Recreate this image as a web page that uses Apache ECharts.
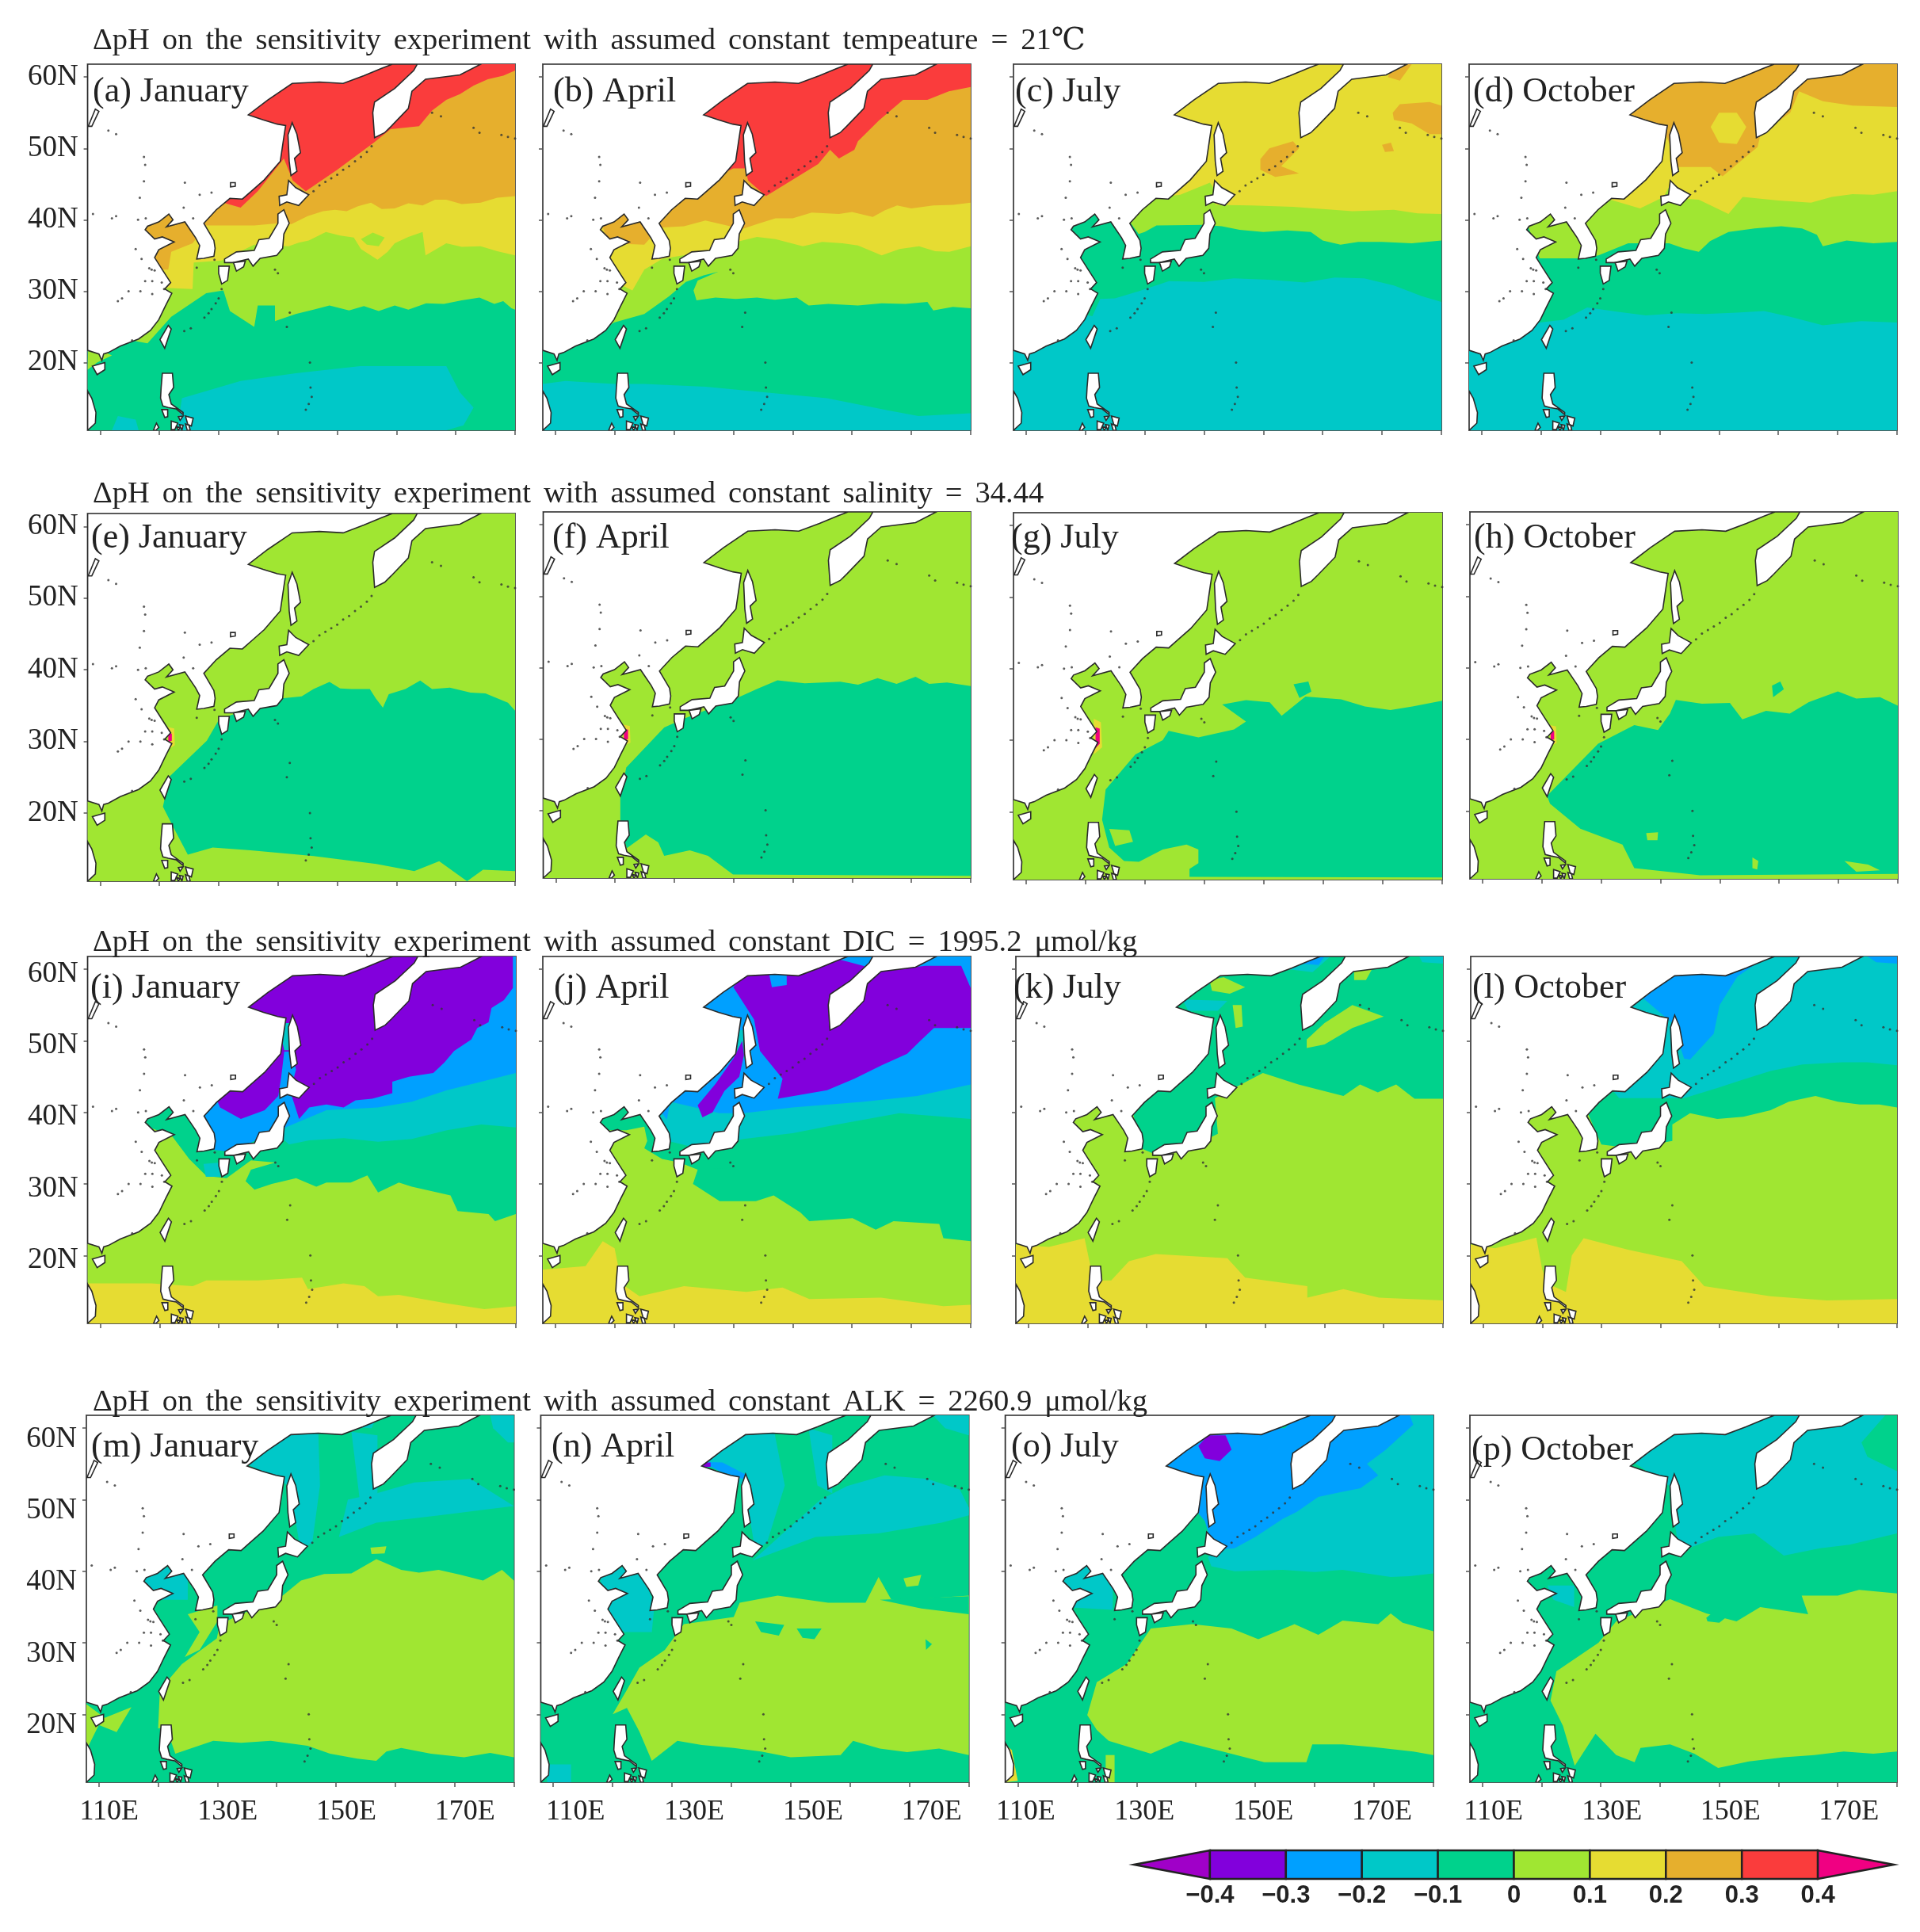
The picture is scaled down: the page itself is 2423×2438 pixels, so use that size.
<!DOCTYPE html>
<html>
<head>
<meta charset="utf-8">
<title>Delta pH sensitivity experiments</title>
<script src="https://cdn.jsdelivr.net/npm/echarts@6/dist/echarts.min.js"></script>
<style>
html,body{margin:0;padding:0;background:#fff}
#main{width:2423px;height:2438px}
</style>
</head>
<body>
<div id="main"></div>
<script>
// axis ranges of every map panel
var LON_MIN = 107.9, LON_MAX = 180, LAT_MIN = 10.5, LAT_MAX = 61.8;
var LON_TICKS = [110,120,130,140,150,160,170,180];
var LON_LABELS = [110,130,150,170];
var LAT_TICKS = [20,30,40,50,60];

var ROW_TITLES = [
  'ΔpH on the sensitivity experiment with assumed constant tempeature = 21℃',
  'ΔpH on the sensitivity experiment with assumed constant salinity = 34.44',
  'ΔpH on the sensitivity experiment with assumed constant DIC = 1995.2 μmol/kg',
  'ΔpH on the sensitivity experiment with assumed constant ALK = 2260.9 μmol/kg'
];
var PANEL_NAMES = ['(a) January','(b) April','(c) July','(d) October','(e) January','(f) April','(g) July','(h) October',
  '(i) January','(j) April','(k) July','(l) October','(m) January','(n) April','(o) July','(p) October'];

// colour bar
var BAR_BREAKS = [-0.5,-0.4,-0.3,-0.2,-0.1,0,0.1,0.2,0.3,0.4,0.5];
var BAR_LABELS = [-0.4,-0.3,-0.2,-0.1,0,0.1,0.2,0.3,0.4];
var BAR_COLORS = ['#a000c8','#8200dc','#00a0ff','#00c8c8','#00d28c','#a0e632','#e6dc32','#e6af2d','#fa3c3c','#f00082'];

// coast, land is white in every panel, all as lon,lat
var wholeMap = [107.9,10.5, 180,10.5, 180,61.8, 107.9,61.8];
var LAND = [
  [107.9,21.7, 109.8,21.2, 110.3,20.3, 110.6,21.2, 111.4,21.4, 113.4,22.3, 116.5,23.3, 118.5,24.5, 119.9,26, 121,27.9, 122.1,29.7, 120.9,30.3, 121.9,31.2, 120.5,33, 119.2,34.7, 119.9,35.8, 122.5,36.9, 120.5,37.6, 119.2,37.3, 117.6,38.6, 118,39.1, 119.9,39.7, 121.6,40.8, 122.3,40, 121.2,39, 124.3,39.7, 125.2,38.6, 126.1,37.5, 126.8,36.4, 126.3,34.5, 127.5,34.6, 129.2,34.9, 129.4,36, 129.2,37.1, 127.5,39.5, 129.6,41.4, 131.9,43, 134,42.9, 135.5,44, 137.7,45.6, 140.4,48.2, 141,51.6, 141.3,53.2, 139.9,53.4, 137.5,54, 135,54.7, 138.3,56.8, 142.4,59.1, 147,59.3, 151,59.1, 154.5,60.2, 157.4,61.2, 159.3,61.8, 163.5,61.8, 162.9,60.9, 159.7,58.4, 156.3,56.5, 156,55, 156.3,51.5, 158,52.2, 159.1,53.1, 162,55.6, 162.6,58, 164.9,59.7, 170.7,60.3, 174.2,61.8, 107.9,61.8],
  [142.4,53.6, 143.2,52, 143.8,49.4, 142.8,48.6, 143.2,46.8, 142.2,46.2, 141.9,48.2, 141.7,51.9],
  [141.8,45.5, 143,44.5, 145.2,43.5, 143.5,42, 141.5,42.5, 140.3,42, 140.2,43.3, 141.5,43.5],
  [141,41.4, 141.9,39.5, 141,38, 140.8,36, 139.8,35, 137,34.6, 135.8,33.5, 135,34.5, 132.5,34, 131,34, 131,34.5, 133,35.5, 136,35.7, 136.8,37.2, 138.5,37.4, 140,39.5, 140,40.8],
  [130,33.5, 131.8,33.5, 131.5,31.5, 130.5,31, 130,32.5],
  [132.5,34, 134.5,34.2, 134.2,33.4, 133,32.8],
  [121.5,25.2, 122,24.7, 120.9,22, 120.1,23.2],
  [108.7,19.5, 110.8,20, 110.8,19, 109.5,18.3],
  [120.5,18.5, 122.2,18.5, 122.4,16.5, 121.6,15.5, 122,14.2, 124,13, 124,12.7, 122.8,13.5, 121.5,13.7, 120.6,13.9, 120.2,15, 120.3,16.5],
  [120.4,13.4, 121.4,13.4, 121.4,12.4, 120.9,12.3],
  [124.4,12.5, 125.7,12.2, 125.4,11.1, 124.8,11.3],
  [124.4,11.4, 125,11.2, 125.2,10.5, 124.7,10.5],
  [122,11.8, 123.1,11.5, 122.6,10.6, 122,10.6],
  [122.9,11, 123.5,10.9, 123.2,10.5],
  [123.4,11.3, 124,11.2, 123.8,10.5],
  [123.2,12.4, 124,12.5, 123.5,11.9],
  [119.5,11.5, 119.9,10.9, 119.4,10.5, 119,10.5],
  [107.9,16, 108.6,15, 109.3,13, 109.2,11.5, 107.9,10.5],
  [108,53.1, 108.6,53.1, 109.8,55.2, 109.2,55.5],
  [132,45.2, 132.8,45.2, 132.8,44.7, 132,44.6]
];
var ISLETS = [[127.6,26.3],[128.3,26.9],[128.8,27.5],[129.5,28.3],[130,29],[130.5,30.3],[124.2,24.4],[125.3,24.8],
  [146,44],[147,44.8],[148,45.3],[149,45.8],[150,46.3],[151,47],[152,47.5],[153,48.2],[154,48.8],[155,49.5],[155.8,50.3],
  [139.5,33],[140,32.5],[142,27],[141.5,25],
  [145.7,15.2],[145.2,14.2],[144.7,13.4],[145.5,16.5],[145.4,20],
  [166,55],[167.5,54.5],[173,52.9],[174,52.2],[177.7,51.9],[178.8,51.6],[180,51.4],
  [126.3,33.3],[129.3,34.4],[111.4,52.5],[112.7,52],[117.4,48.8],[117.6,47.7],[117.4,45.4],[124.3,45.2],[126.8,43.5],[128.8,43.8],
  [116.7,43.1],[124.1,41.7],[108.8,40.8],[112,40.2],[112.7,40.5],[116.4,40],[117.7,40.2],[125.7,40.2],[116,35.9],[117,34.5],
  [118.3,33.2],[118.7,33],[119.2,32.9],[117.6,31.4],[118.8,31.4],[120.4,31.2],[118.8,29.6],[120.8,30.3],[116.8,30],[114.8,30],[113,28.6],[113.7,29],[115.4,23.1]
];

// dpH fields: each patch is [band middle value, lon,lat outline], later patches lie on earlier ones
var fieldA = [
  [-0.05, wholeMap],
  [-0.15, [123.8,15, 133.7,17.4, 143,18.5, 153.9,19.5, 168.4,19.5, 170.7,15.8, 173,13.7, 171.3,11.2, 168.4,10.5, 123,10.5]],
  [-0.15, [113,12.5, 116,12, 116.5,10.5, 112,10.5]],
  [0.05, [107.9,19, 109.5,20, 112,21, 108,22.5]],
  [0.05, [116,23, 118,22.7, 122,26.4, 127.9,29.7, 130.8,30.1, 131.9,27.2, 136,25, 136.6,28, 139.5,28, 139.5,25.8, 143,26.8, 146,27.4, 148.7,28, 152,27.3, 154.5,27.9, 157,27.2, 159.7,28, 162,27.4, 165,28.3, 168,28.2, 171,28.7, 174,29.1, 176.5,28.2, 178,28.6, 179.4,27.6, 180,27.4, 180,61.8, 107.9,61.8]],
  [0.15, [120,30.5, 125.6,30.3, 125.8,34, 130.5,34.3, 136,36.5, 141.8,36.3, 143.5,36.8, 145.2,37.1, 148.1,38.3, 150.5,37.8, 152.8,37.5, 154,35.9, 156.8,34.4, 158.5,35.5, 159.7,36.7, 162,37.6, 164.4,38.3, 164.9,35, 168.4,36.7, 171,36.2, 174.2,36.3, 177,35.6, 180,35, 180,61.8, 107.9,61.8]],
  [0.05, [154,37.3, 156,38.2, 158,37.5, 157,36.3, 155,36.5]],
  [0.25, [117,33, 121.5,33, 122,35.5, 125.6,36.7, 127.9,39.2, 136,39.2, 140,39.5, 142.3,39.4, 145,40.5, 147.6,41.2, 149.6,41.4, 151.6,41.2, 153.5,41.9, 155.7,42.4, 157.5,41.5, 159.7,41.6, 162,42.3, 164.4,42, 166.5,42.8, 168.4,42.8, 171,42.2, 174.2,42.4, 177,43.1, 180,43.3, 180,61.8, 107.9,61.8]],
  [0.35, [125,50, 130.8,42.4, 133.7,41.7, 136.6,44, 141,48.6, 142.5,45.5, 144.7,44, 150,47, 156.3,50.9, 159,52.7, 163.8,53.1, 166,55.3, 168.4,56.8, 170.7,57.6, 173,58.8, 175.4,59.7, 178,60.2, 180,60.9, 180,61.8, 107.9,61.8]]
];
var fieldB = [
  [-0.05, wholeMap],
  [-0.15, [107.9,17, 111.7,17.4, 119.9,17, 125,17, 135.3,16.6, 145.5,15.8, 155.8,15, 166,13.3, 171.2,12.5, 180,12.9, 180,10.5, 107.9,10.5]],
  [0.05, [116,23.5, 119.9,25.6, 125,26.8, 129.2,29.3, 132,31.3, 135,32.2, 137.4,32.7, 134,31.5, 133.3,30.1, 133.8,28.7, 137,29.1, 140.4,28.9, 144,29.1, 147,28.8, 150.7,29.1, 152.7,28, 156,28.2, 161,28, 165,28.3, 169,28.2, 172.7,28.5, 173.7,27.3, 177,27.8, 180,27.6, 180,61.8, 107.9,61.8]],
  [0.15, [119.5,31.5, 123,30.1, 125,33, 128,34.5, 135,35.5, 141.5,37.1, 144,37.6, 147.1,37.3, 151.7,36.3, 155,36.9, 158.4,36.7, 161,36.4, 165,35, 168,35.9, 171.3,36.3, 174,35.6, 176.4,35.5, 180,36.3, 180,61.8, 107.9,61.8]],
  [0.25, [119,36.7, 125,36.5, 127.6,38.9, 131.7,39.1, 135.3,39.9, 141.5,38.7, 144,39.4, 147.1,40.2, 150,40.2, 153.2,41, 157.8,40.8, 160,41.1, 163.5,40.4, 165.5,41.3, 167.6,42, 170,41.6, 173.7,42, 177,42.1, 180,42.4, 180,61.8, 107.9,61.8]],
  [0.35, [125,50, 137,46, 140,47.2, 142,47.2, 142.5,45.5, 145.5,43.3, 154.3,47.8, 156.3,49.8, 157.8,48.6, 160.4,49.8, 161,51, 164.5,53.9, 168.6,56.8, 172.7,56.8, 176.3,58, 180,58.6, 180,61.8, 107.9,61.8]]
];
var fieldC = [
  [-0.15, wholeMap],
  [-0.05, [118,27, 121.2,26.5, 122.5,28.9, 125,29, 129,30, 134.1,31.4, 140,31.3, 145,31.8, 151,31.6, 157,31.2, 162,31.9, 167,31.8, 172,30.8, 176.7,29.3, 180,28.5, 180,61.8, 107.9,61.8]],
  [0.05, [129,38, 130,38.3, 132,39.2, 140,39.3, 143,39.1, 146,38.6, 150,38.3, 154,38.5, 158,38.3, 160,37.1, 163,36.5, 166,36.9, 170,36.9, 175,36.7, 180,37.1, 180,61.8, 107.9,61.8]],
  [0.15, [125,48, 131,43, 136,43.5, 141,45.2, 142,44, 141.9,42.1, 148,42, 155,41.8, 160,41.5, 165,41.2, 172,41.4, 176,40.9, 180,40.8, 180,61.8, 107.9,61.8]],
  [0.25, [171.8,55, 173,56.2, 178,56.5, 180,56, 180,52, 178,52, 175,53.5, 172,54]],
  [0.25, [171,60, 173,59.5, 175,61.8, 172,61.8]],
  [0.25, [170,50.5, 171.5,50.8, 172,49.6, 170.5,49.5]],
  [0.25, [149.5,48.5, 151,50, 155,51, 156,50, 153,47.5, 156,46.5, 152,46, 149.5,47]]
];
var fieldD = [
  [-0.15, wholeMap],
  [-0.05, [116,26, 119.8,25.6, 123.8,26, 127.8,27.7, 133,27.1, 137.7,26.6, 143,26.9, 147.6,26.8, 153,27, 157.6,27.2, 162,26.4, 167.5,25.2, 174,25.8, 180,25.6, 180,61.8, 107.9,61.8]],
  [0.05, [119.8,34.6, 126.3,34.6, 129.7,35, 134.7,36.7, 141.6,36.7, 144,36, 146.6,35.5, 148.5,37, 151.6,38.3, 156,38.8, 160.5,39.1, 164,38.8, 166.5,37.9, 167.5,36.3, 171.5,37.1, 176,36.7, 180,36.9, 180,61.8, 107.9,61.8]],
  [0.15, [125,48, 131.7,42.8, 136.7,41.6, 140.7,43.2, 141.7,44.8, 143,43, 146.6,42.8, 151.6,40.8, 154,43.2, 160,42.7, 165.5,42.4, 169,43.2, 172.5,43.6, 176,43.5, 180,44, 180,61.8, 107.9,61.8]],
  [0.25, [130,50, 141,52, 143,48, 142.7,47.4, 148.6,47.4, 150.6,46.1, 156.5,50.2, 157,52, 162,55, 163.5,58, 167.5,56.6, 172.5,56, 180,55.8, 180,61.8, 107.9,61.8]],
  [0.15, [148.6,53, 150,55, 153,55, 154.6,53, 153,50.6, 150,50.8]]
];
var fieldE = [
  [0.05, wholeMap],
  [-0.05, [120.6,20.9, 121.7,25.1, 128,30.1, 130.1,33.1, 135,34.5, 140.7,36, 144,36.3, 146,37.3, 148.7,38.3, 150.5,37.4, 152.4,37.3, 155.5,37.3, 156.5,36, 157.7,34.7, 158.7,36.6, 161.5,37.3, 164,38.5, 166,37.3, 169,37.5, 172.5,36.8, 175,36.7, 178.8,35.4, 180,34.3, 180,11.9, 174.6,12.1, 171.9,10.5, 167.2,13.3, 163,11.9, 156.6,12.9, 146,14, 135.4,14.8, 129,15.2, 124.8,14.2, 122.7,17.5]],
  [0.15, [121.4,28.8, 122.6,29.5, 122.5,31.8, 121.4,32]],
  [0.45, [121.5,29.9, 122.1,30.1, 122.1,31.1, 121.5,31.2]]
];
var fieldF = [
  [0.05, wholeMap],
  [-0.05, [120.9,22, 121.9,26, 128.3,31.6, 131.5,32.8, 140,35.5, 144,37, 147.4,38.2, 152,37.8, 158,38, 161,37.6, 164.3,38.5, 167.5,37.7, 170.7,38.7, 173,37.7, 176,37.9, 180,37.4, 180,10.8, 139.9,11, 135.7,13.6, 132.6,14.4, 128.3,13.6, 127.3,15.5, 125.2,16.6, 122,14.7, 120.9,17.4]],
  [0.15, [121.4,29, 122.6,29.5, 122.5,31.8, 121.4,32]],
  [0.45, [121.5,29.7, 122.2,30, 122.2,31.3, 121.5,31.4]]
];
var fieldG = [
  [0.05, wholeMap],
  [-0.05, [123.4,23.1, 128.4,28, 133,30, 134,31.3, 139,30.4, 145,31.5, 147,32.6, 143,35, 147,35.6, 151,35.3, 153,33.4, 157,36.1, 163,35.7, 167,34.7, 171.3,34.2, 175,34.7, 180,35.5, 180,10.8, 137.5,10.9, 137.5,12, 139,12.8, 139,14.7, 137,15.4, 133,14.7, 129,13, 126.5,13.1, 124,15, 122.8,18.9]],
  [0.05, [124,17.6, 127.4,17.4, 128,15.8, 125,15.2]],
  [-0.05, [155,37.8, 157.5,38.2, 158,36.8, 156,35.9]],
  [0.15, [121.4,28, 122.8,29, 122.6,32.5, 121.4,33]],
  [0.45, [121.7,28.9, 122.4,29.5, 122.4,31.6, 121.7,31.8]]
];
var fieldH = [
  [0.05, wholeMap],
  [-0.05, [120.9,22.1, 129.5,29.4, 135.6,32, 139.6,31.3, 141.6,33.6, 142.6,35.5, 147,35, 151.7,35.1, 153.8,32.8, 157.8,34, 161.8,33.6, 165,35.2, 169.9,36.7, 173,35.7, 177,35.9, 180,34.7, 180,11.2, 146.7,11, 135.6,12, 133.6,15.3, 126.5,17.5, 121.4,21]],
  [0.05, [137.6,16.9, 139.6,17, 139.5,15.9, 137.8,15.9]],
  [0.05, [171,13, 175,12.5, 177,11.7, 173,11.5]],
  [0.05, [155.5,13.5, 156.5,13, 156.3,11.8, 155.5,12]],
  [-0.05, [158.8,37.5, 160.2,38.1, 160.8,37, 159,35.9]],
  [0.15, [121.4,29, 122.5,29.5, 122.4,31.8, 121.4,32]],
  [0.45, [121.5,29.8, 122.1,30, 122.1,31.1, 121.5,31.2]]
];
var fieldI = [
  [0.05, wholeMap],
  [0.15, [107.9,16.1, 112.2,16.1, 118.6,16.1, 125.6,15.7, 127.9,16.5, 136.6,16.5, 144,16.9, 145,15.3, 151,16.1, 154.5,15.7, 156.8,14.3, 160.3,14.5, 168.4,13.3, 174.7,12.5, 180,12.9, 180,10.5, 107.9,10.5]],
  [-0.05, [118,38, 122.1,36.7, 125,33.5, 127.9,31.1, 131.3,30.8, 135.4,33.3, 139.5,33, 135.4,32, 134.5,30.4, 136,29.2, 138.9,30, 143,30.8, 146.4,29.6, 148.1,30.2, 152.2,30.2, 155,31.2, 156.8,28.8, 160.3,30.2, 162.5,29.6, 169,28.4, 170.2,26.2, 175.4,25.8, 176.5,24.8, 180,25.8, 180,61.8, 107.9,61.8]],
  [-0.15, [127.4,32.8, 130.2,33, 130.2,31, 127.8,31]],
  [-0.15, [141.8,35.5, 145.2,36.1, 151,36.4, 156.8,35.9, 162.5,36.3, 168.4,37.5, 174.2,38.3, 180,37.9, 180,61.8, 107.9,61.8]],
  [-0.25, [127,38, 129,34.8, 132,34.5, 136,36, 140,37, 141.2,37.9, 148.1,40.3, 156.8,40.7, 162.5,41.5, 168.4,43.1, 174.2,44.3, 180,45.5, 180,61.8, 107.9,61.8]],
  [-0.35, [129,43, 130.2,40.7, 133.7,39.1, 137.7,40.3, 140,42.3, 140.5,45, 141,48.5, 142.2,48.5, 143,46, 142,43, 143.5,39.1, 145.2,40.7, 148.1,41.1, 151,40.7, 153,41.7, 155.8,41.9, 159.2,42.7, 159.2,44.3, 162,45, 166.1,45.5, 168,47, 169.6,48.6, 172.5,50.2, 173.5,51.8, 175.4,52.6, 175.9,54.6, 178,55.7, 179.5,57.4, 179.5,61.8, 107.9,61.8]],
  [-0.25, [159.6,44, 161.5,44.8, 163,44.6, 161.5,43.4]],
  [-0.15, [140,52.5, 142.8,52.5, 143,48.7, 141,48.7]],
  [-0.25, [142.5,47.5, 141.5,44, 140.3,42, 141,44.5, 141.2,47]]
];
var fieldJ = [
  [0.05, wholeMap],
  [0.15, [107.9,18, 115.1,18.5, 118,22, 120,21, 121.2,16, 124.2,14.3, 131.7,15.7, 142.2,14.9, 148.3,15.5, 152.8,13.9, 164.9,14.1, 175.4,12.9, 180,13.1, 180,10.5, 107.9,10.5]],
  [-0.05, [116,40, 117,37.5, 122,37.5, 125,38, 125.5,36, 125,35, 128,33.5, 131,33, 134,32, 133.2,30, 137.7,27.6, 143.8,27.6, 146.8,28.4, 151.3,26, 152.8,24.8, 160.1,25.2, 164,23.6, 167,24.8, 174.7,24.4, 175.4,22.4, 180,22, 180,61.8, 107.9,61.8]],
  [-0.05, [134,32, 140.7,32.3, 143,34, 143,36, 138,36]],
  [-0.15, [129,36, 134,35, 141.7,36.3, 150,37.1, 157.5,38.3, 168,39.9, 180,39.1, 180,61.8, 107.9,61.8]],
  [-0.25, [128.8,39, 129.4,41.5, 137.7,39.9, 141.7,39.9, 150,40.7, 162,41.5, 171,42.3, 180,43.9, 180,61.8, 107.9,61.8]],
  [-0.15, [139,51.5, 143,51.5, 143,47.5, 141,47.5]],
  [-0.35, [140,57.5, 142,59.5, 146,59.5, 146.5,57.5, 149,57.8, 149,60, 156,61.8, 165,59.8, 172.4,60.5, 178.4,60.5, 180,57.4, 180,51.8, 173.8,51.8, 171.5,50, 169.3,48.2, 165,46.6, 160.4,44.7, 155.8,43.1, 147.5,41.9, 148.3,44.7, 144.5,48.6, 143.5,53]],
  [-0.35, [141.5,50, 141.8,48, 141,45, 138.5,43, 136.5,40, 134.8,39.3, 134,41, 137,44, 140,47.5]]
];
var fieldK = [
  [0.05, wholeMap],
  [0.15, [107.9,21.5, 113.5,21.2, 119.5,22.4, 121,16.5, 124,16.5, 127,19.2, 131.5,20.2, 143.6,19.6, 146.6,16.9, 157.1,15.7, 157.1,14.1, 163.2,15.3, 169.2,14.1, 180,13.7, 180,10.5, 107.9,10.5]],
  [-0.05, [125,50, 129,35, 131,34.3, 137,35, 142,37, 141.5,42, 149.6,45.5, 155.6,43.9, 163.2,42.3, 166,43.9, 169,42.8, 172.1,43.9, 175.2,41.9, 180,41.9, 180,61.8, 107.9,61.8]],
  [0.05, [157,50.2, 160,52.5, 164.7,55, 170,53.4, 164.7,51.8, 160,49.5, 157,49]],
  [0.05, [140.6,58.5, 143,58.9, 146.6,57.5, 144,56.6, 141,57]],
  [0.05, [144.5,55, 146,55, 146.2,52, 145,51.8]],
  [0.05, [165,60.5, 168,60, 167,58.5, 165,58.5]],
  [-0.15, [136,55.8, 143.6,55.6, 142,54.2, 137,54.2]],
  [-0.15, [152,61.8, 154,60, 158,59.6, 161,61.8]],
  [-0.25, [155,61.8, 156,60.8, 159,60.6, 160,61.8]],
  [-0.15, [176,61.8, 176.5,61, 180,60.8, 180,61.8]]
];
var fieldL = [
  [0.05, wholeMap],
  [0.15, [107.9,21.5, 112,21, 119,22.5, 120,18, 121,16, 124,14.9, 125,20, 127,22.4, 134.5,20.8, 143.6,19.2, 147.4,15.7, 158.6,14.3, 168.1,13.7, 180,13.9, 180,10.5, 107.9,10.5]],
  [-0.05, [125,45, 130,35.5, 135,35, 142,36, 142,38.3, 145,39.9, 149.6,39.1, 154,39.4, 158.6,40.3, 161.7,41.5, 166.2,42.3, 170,41.5, 173.7,41.1, 177,41.1, 180,40.7, 180,61.8, 107.9,61.8]],
  [-0.15, [125,50, 133,42, 140,42, 144,42, 149.6,43.4, 154,44.6, 158.6,45.8, 164,46.7, 170.7,47, 175,47, 180,46.6, 180,61.8, 107.9,61.8]],
  [-0.25, [125,58, 137,56, 142,52.5, 144,47.5, 145,47.4, 149,51, 150,55, 153,59, 158,61.8]],
  [-0.25, [175,61.8, 176.5,61, 180,60.8, 180,61.8]]
];
var fieldM = [
  [-0.05, wholeMap],
  [0.05, [120,18, 121.3,18.3, 122.9,14.5, 129.3,16.3, 134,16, 139,16.3, 145.2,15.6, 149,14.5, 153.6,13.8, 156.8,13.5, 158.5,14.8, 161,15.3, 166,14.5, 171.6,14, 176,14.6, 180,14, 180,38.7, 178,40.2, 174.8,38.7, 171,39.5, 167.3,40.2, 164,39.8, 161,40.2, 156.8,41.7, 152.6,39.7, 148,39.6, 144.1,38.7, 141,36.6, 130.4,32.6, 129.9,30.6, 124,27, 120.3,23.4]],
  [0.05, [124.5,28, 127,29, 130,33, 130,35.2, 125,34, 127,31.5]],
  [0.05, [107.9,21.4, 111,19.5, 115.5,21, 113,17.5, 110,18.5, 107.9,15]],
  [0.05, [155.8,43.3, 158.5,43.5, 158.2,42.5, 156,42.4]],
  [-0.15, [150.5,44.8, 156.8,46.8, 167.4,47.8, 177,48.8, 180,49.1, 172.7,52.9, 163.2,52.4, 156.8,50.9, 152,50]],
  [-0.15, [135,55, 142,59.5, 147,60, 147.3,52, 146,44, 144,43, 143,48, 142,52]],
  [-0.15, [152.6,59.5, 157,59, 157,50.9, 154,50]],
  [-0.15, [147,61.8, 152,60.2, 156,60, 157,61.8]],
  [-0.15, [176,61.8, 176.5,60, 179,58, 180,58, 180,61.8]],
  [-0.15, [117.7,40.5, 125,40.5, 125,36, 118,36]]
];
var fieldN = [
  [-0.05, wholeMap],
  [0.05, [120,20, 122.4,20.9, 124.5,17.6, 126.6,13.5, 130.9,16.3, 135,15.7, 140.4,15.3, 145,14.8, 150,14, 158.4,14.3, 160.5,16.3, 165,15.2, 169.6,14.7, 175,15.2, 180,14.3, 180,36.6, 171.1,36.1, 166.9,36.1, 164.8,39.2, 162.6,35.6, 156.3,35.6, 147.8,36.6, 141.4,35.6, 140.4,33.6, 132,32.6, 128.8,29, 124.5,26.5, 122.4,23.4]],
  [-0.05, [144,33, 148.9,32.5, 148,31, 145,31.5]],
  [-0.05, [151,32, 155.2,32, 154,30.5, 152,30.7]],
  [-0.05, [165,36, 180,36.5, 180,34, 172,34.8]],
  [-0.05, [172.7,30.5, 173.8,29.8, 172.8,29]],
  [0.05, [169,39, 172,39.5, 171.5,38, 169.5,37.8]],
  [-0.15, [143.6,41.5, 154.2,44.8, 164.8,45.3, 175.4,46.8, 180,47.8, 180,48.9, 178.5,51.4, 173,52.9, 165.8,53.4, 159.5,51.9, 155,50]],
  [-0.15, [135,55.5, 142,59.5, 147,60.5, 149,52, 146,44, 144,43, 143,48, 142,52]],
  [-0.15, [153,60, 157,59, 157,50.9, 154.5,52]],
  [-0.15, [174,61.8, 176,60, 180,59, 180,61.8]],
  [-0.15, [118,40.5, 125,40.5, 127,35, 126.6,31.5, 122,31.5, 118,34]],
  [-0.25, [135,55.3, 138.5,55.2, 142.5,53.5, 142,52.9, 138,54]],
  [-0.35, [135,55.2, 136.5,55.2, 136.5,54.6, 135,54.6]],
  [-0.15, [108.6,13, 113,13, 113,10.5, 109,10.5]]
];
var fieldO = [
  [-0.05, wholeMap],
  [0.05, [121.7,19.9, 123.3,17.8, 125.3,16.3, 132.4,14.5, 137.4,16.3, 144.5,14.8, 151.5,13.3, 158.6,13.3, 159.6,15.8, 164.7,15.8, 170,15.4, 176.6,14.8, 180,14.3, 180,31.6, 174.8,32.8, 172.8,34.1, 170.7,32.6, 164.7,33.1, 160.6,31.1, 156.6,32.6, 150.5,30.5, 146,32, 139.4,32.6, 132.4,32, 128.3,27, 123.3,24.5]],
  [0.05, [124.8,14.3, 126.3,14.3, 126.3,10.5, 124.8,10.5]],
  [0.15, [107.9,15.8, 109,15, 110,10.7, 107.9,10.5]],
  [-0.15, [142,42, 142.6,40.7, 146.5,40, 154.6,40.2, 160,39.9, 164.7,40.2, 172.8,39.2, 176,39.3, 180,39.7, 180,61.8, 170,61.8, 160,52, 146,44]],
  [-0.15, [117.7,40.7, 126,40.7, 126,34.6, 118,35]],
  [-0.25, [125,50, 136,54.5, 140.5,48, 141.5,47, 143,43, 146.5,43.2, 150,44.8, 154.6,47.3, 157,48.3, 160.6,50.4, 164,51, 167.7,51.6, 170.7,53.4, 168.8,55, 172,57, 176.6,60.5, 176,61.8, 167,61.8, 163,61.8, 157,61.8, 155,60, 150,60, 140,59]],
  [-0.35, [140.4,57.5, 142,59, 145,59, 146,57, 144,55.4, 141.5,55.8]]
];
var fieldP = [
  [-0.05, wholeMap],
  [0.05, [121.5,21.9, 123.6,18.4, 125.6,12.8, 129.1,17.3, 132.6,14.3, 135.7,13.3, 136.7,15.3, 141.7,15.8, 145.8,14.5, 149.8,12.5, 155,13.4, 160.9,14, 166,14.3, 171,14.8, 176,14.5, 180,14.8, 180,36.9, 173.6,37.4, 170,36.6, 163.9,36.6, 165,34, 156.9,35, 152.9,33, 147.8,34.1, 141.7,36.1, 132.6,33, 129.6,30, 122.5,26]],
  [-0.05, [147.8,33.5, 150,35, 151.8,34, 150,32.8, 148,33]],
  [-0.15, [135,55.5, 141.5,52, 143,44, 144.8,43.2, 149.8,44.8, 155.9,45.3, 160.9,42.2, 167,43.2, 172,43.7, 180,45.3, 180,54, 175,56, 174,58, 178,61.8, 107.9,61.8]],
  [-0.15, [121,38, 125.5,38, 125.5,35, 122,36]]
];
var FIELDS = [fieldA,fieldB,fieldC,fieldD,fieldE,fieldF,fieldG,fieldH,fieldI,fieldJ,fieldK,fieldL,fieldM,fieldN,fieldO,fieldP];

// page layout in pixels: x0,x1 of each panel, y0,y1 of each row
var BOXES = [
  [110.6,650,81,543],[685,1225,81,543],[1279,1819,81,543],[1854,2394,81,543],
  [110.6,650,648,1112],[685.6,1225,646,1108],[1279,1820,647,1110],[1855,2395,646,1109],
  [110.6,651,1207,1670],[685,1225,1207,1670],[1282,1821,1207,1670],[1856,2394,1207,1670],
  [109,648.5,1786,2249],[682.5,1222.6,1786,2249],[1268.7,1809,1786,2249],[1855,2394,1786,2249]
];
var TITLE_POS = [[117,54],[117,626],[117,1192],[117,1772]];
var NAME_POS = [[117,118],[698,118],[1281,118],[1859,118],[115,681],[697,681],[1276,681],[1860,681],
  [114,1249],[699,1249],[1279,1249],[1858,1249],[115,1828],[696,1828],[1276,1828],[1857,1832]];
var XLABEL_SHIFT = [13,28,10,14];
var YLABEL_SHIFT = [0,0,6,14];
var SERIF = '"Liberation Serif","DejaVu Serif",serif';

function colorOf(v){
  return BAR_COLORS[Math.max(0, Math.min(9, Math.floor((v + 0.5) / 0.1 + 1e-6)))];
}
function outline(flat, api){
  var pts = [];
  for (var i = 0; i < flat.length; i += 2) {
    pts.push(api.coord([Math.max(LON_MIN, Math.min(LON_MAX, flat[i])), Math.max(LAT_MIN, Math.min(LAT_MAX, flat[i+1]))]));
  }
  return pts;
}
function fieldSeries(field, idx){
  return {
    type: 'custom', coordinateSystem: 'cartesian2d', xAxisIndex: idx, yAxisIndex: idx, silent: true, clip: true, z: 2,
    data: field.map(function(p){ return [p[1][0], p[1][1], p[0]]; }),
    encode: {x: 0, y: 1},
    renderItem: function(params, api){
      var p = field[params.dataIndex];
      return {type: 'polygon', shape: {points: outline(p[1], api)}, style: {fill: colorOf(p[0]), stroke: null}};
    }
  };
}
function landSeries(idx){
  return {
    type: 'custom', coordinateSystem: 'cartesian2d', xAxisIndex: idx, yAxisIndex: idx, silent: true, clip: true, z: 3,
    data: LAND.map(function(p){ return [p[0], p[1]]; }),
    encode: {x: 0, y: 1},
    renderItem: function(params, api){
      return {type: 'polygon', shape: {points: outline(LAND[params.dataIndex], api)}, style: {fill: '#fff', stroke: '#2a2a2a', lineWidth: 1.6}};
    }
  };
}

var grids = [], xAxes = [], yAxes = [], series = [], titles = [];
BOXES.forEach(function(b, i){
  var col = i % 4, row = Math.floor(i / 4);
  var latLabel = {show: col === 0, customValues: LAT_TICKS, margin: 12, fontFamily: SERIF, fontSize: 37, color: '#222',
    formatter: function(v){ return v + 'N'; }};
  if (YLABEL_SHIFT[row]) { latLabel.verticalAlign = 'top'; latLabel.lineHeight = 2 * YLABEL_SHIFT[row]; }
  grids.push({left: b[0], top: b[2], width: b[1]-b[0], height: b[3]-b[2], show: true, borderColor: '#555', borderWidth: 2, backgroundColor: '#fff'});
  xAxes.push({
    type: 'value', gridIndex: i, min: LON_MIN, max: LON_MAX, splitLine: {show: false},
    axisLine: {show: false},
    axisTick: {show: true, length: 6, customValues: LON_TICKS, lineStyle: {color: '#555', width: 1.5}},
    axisLabel: {show: row === 3, customValues: LON_LABELS, margin: 20, fontFamily: SERIF, fontSize: 36, color: '#222',
      padding: [0,0,0,2*XLABEL_SHIFT[col]], formatter: function(v){ return v + 'E'; }}
  });
  yAxes.push({
    type: 'value', gridIndex: i, min: LAT_MIN, max: LAT_MAX, splitLine: {show: false},
    axisLine: {show: false},
    axisTick: {show: true, length: 5, customValues: LAT_TICKS, lineStyle: {color: '#555', width: 1.5}},
    axisLabel: latLabel
  });
  series.push(fieldSeries(FIELDS[i], i));
  series.push(landSeries(i));
  series.push({type: 'scatter', xAxisIndex: i, yAxisIndex: i, data: ISLETS, symbolSize: 3, z: 4, silent: true, itemStyle: {color: '#333'}});
  titles.push({text: PANEL_NAMES[i], left: NAME_POS[i][0], top: NAME_POS[i][1]-24, padding: 0, z: 10,
    textStyle: {fontFamily: SERIF, fontWeight: 'normal', fontSize: 44, color: '#222'}});
});
ROW_TITLES.forEach(function(t, i){
  titles.push({text: t.replace(/ /g, '\u00a0\u2006'), left: TITLE_POS[i][0], top: TITLE_POS[i][1]-22, padding: 0, z: 10,
    textStyle: {fontFamily: SERIF, fontWeight: 'normal', fontSize: 38.5, color: '#222'}});
});

// colour bar on its own axes, x is dpH
grids.push({left: 1431, top: 2335, width: 959, height: 36, show: false});
xAxes.push({type: 'value', gridIndex: 16, min: -0.5, max: 0.5, interval: 0.1, splitLine: {show: false}, axisLine: {show: false}, axisTick: {show: false},
  axisLabel: {customValues: BAR_LABELS, margin: 6, fontFamily: '"Liberation Sans",Arial,sans-serif', fontWeight: 'bold', fontSize: 31, color: '#222',
    formatter: function(v){ return v < 0 ? '\u2212' + Math.abs(v).toFixed(1) : (v === 0 ? '0' : v.toFixed(1)); }}});
yAxes.push({type: 'value', gridIndex: 16, min: 0, max: 1, show: false});
series.push({
  type: 'custom', coordinateSystem: 'cartesian2d', xAxisIndex: 16, yAxisIndex: 16, silent: true, z: 3,
  data: BAR_COLORS.map(function(c, i){ return [BAR_BREAKS[i], 0]; }),
  encode: {x: 0, y: 1},
  renderItem: function(params, api){
    var i = params.dataIndex, a = BAR_BREAKS[i], b = BAR_BREAKS[i+1], pts;
    if (i === 0) pts = [[a,0.5],[b,1],[b,0]];
    else if (i === BAR_COLORS.length-1) pts = [[a,1],[b,0.5],[a,0]];
    else pts = [[a,1],[b,1],[b,0],[a,0]];
    return {type: 'polygon', shape: {points: pts.map(function(p){ return api.coord(p); })}, style: {fill: BAR_COLORS[i], stroke: '#222', lineWidth: 2.5}};
  }
});

var myChart = echarts.init(document.getElementById('main'), null, {renderer: 'canvas'});
myChart.setOption({
  animation: false,
  backgroundColor: '#fff',
  title: titles,
  grid: grids,
  xAxis: xAxes,
  yAxis: yAxes,
  series: series
});
</script>
</body>
</html>
